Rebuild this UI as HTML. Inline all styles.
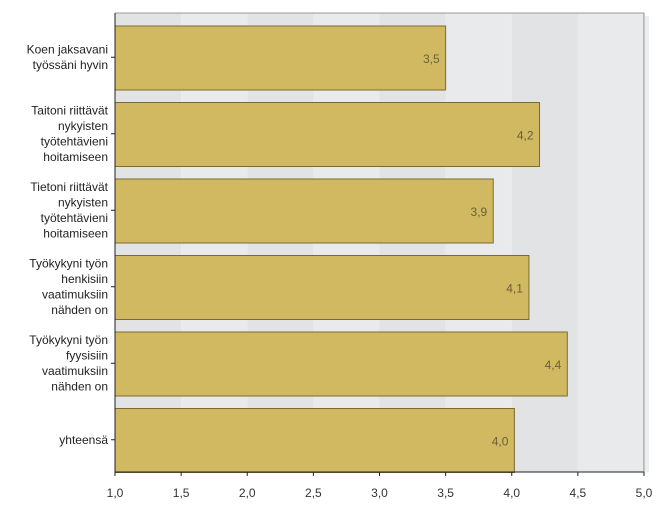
<!DOCTYPE html>
<html><head><meta charset="utf-8"><style>
body{margin:0;background:#fff;}
svg{display:block;font-family:"Liberation Sans",sans-serif;}
</style></head><body>
<svg id="c" width="665" height="513"></svg>
<script>
const categories=[["Koen jaksavani","työssäni hyvin"],["Taitoni riittävät","nykyisten","työtehtävieni","hoitamiseen"],["Tietoni riittävät","nykyisten","työtehtävieni","hoitamiseen"],["Työkykyni työn","henkisiin","vaatimuksiin","nähden on"],["Työkykyni työn","fyysisiin","vaatimuksiin","nähden on"],["yhteensä"]];
const values=[3.5,4.21,3.86,4.13,4.42,4.02];
const tickLabels=["1,0","1,5","2,0","2,5","3,0","3,5","4,0","4,5","5,0"];
const ticks=[1,1.5,2,2.5,3,3.5,4,4.5,5];
const NS="http://www.w3.org/2000/svg";
const svg=document.getElementById('c');
const L=115,R=644,T=13,B=472,xmin=1,xmax=5;
const x=v=>L+(v-xmin)/(xmax-xmin)*(R-L);
const band=(B-T)/categories.length;
const y=i=>T+i*band;
function el(t,a,p){const e=document.createElementNS(NS,t);for(const k in a)e.setAttribute(k,a[k]);(p||svg).appendChild(e);return e;}
el('rect',{x:R+1,y:T+3,width:4,height:B-T-3,fill:'#eceeef'});
for(let i=0;i<ticks.length-1;i++){
  const r=el('rect',{x:x(ticks[i]),y:T,width:x(ticks[i+1])-x(ticks[i]),height:B-T,fill:i%2?'#e8eaec':'#e2e3e5'});
  
  
}
el('line',{x1:R,y1:T,x2:R,y2:B,stroke:'#888'});
el('line',{x1:L,y1:T,x2:R,y2:T,stroke:'#999'});
const defs=el('defs',{});
const g=el('linearGradient',{id:'sep'},defs);
el('stop',{offset:'0',"stop-color":'#fff'},g);el('stop',{offset:'0.5',"stop-color":'#777'},g);el('stop',{offset:'1',"stop-color":'#fff'},g);
values.forEach((v,i)=>{
  const yy=y(i)+13,h=band-12.5;
  const b=el('rect',{x:L,y:yy,width:x(v)-L,height:h,fill:'#d0b960',stroke:'#7d6a32','stroke-width':1});
  
  
  const t=el('text',{x:x(v)-6,y:yy+h/2+5,'text-anchor':'end','font-size':12,fill:'#6b5f3a'});
  t.textContent=v.toFixed(1).replace('.',',');
  
  
  const cy=y(i)+band/2+6;
  el('line',{x1:L-4,y1:cy,x2:L,y2:cy,stroke:'#222'});
  const lines=categories[i];
  const lt=el('text',{'font-size':12,fill:'#222','text-anchor':'end'});
  
  
  lines.forEach((s,j)=>{const ts=el('tspan',{x:L-7,y:cy+4+(j-(lines.length-1)/2)*15.5},lt);ts.textContent=s;});
  if(i>0){el('line',{x1:15,y1:y(i)+6,x2:110,y2:y(i)+6,stroke:'url(#sep)'});}
});
el('line',{x1:L,y1:T,x2:L,y2:B,stroke:'#222'});
el('line',{x1:L,y1:B,x2:R,y2:B,stroke:'#222'});
ticks.forEach((v,i)=>{
  el('line',{x1:x(v),y1:B,x2:x(v),y2:B+4,stroke:'#222'});
  const t=el('text',{x:x(v),y:B+25,'text-anchor':'middle','font-size':12,fill:'#333'});
  t.textContent=tickLabels[i];
  
  
});
</script>
</body></html>
